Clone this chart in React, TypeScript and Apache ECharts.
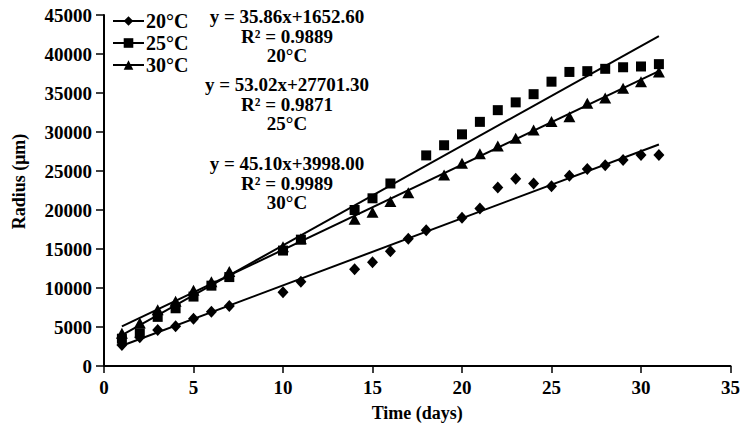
import React, { useEffect, useRef } from "react";
import * as echarts from "echarts";

const days20 = [1, 2, 3, 4, 5, 6, 7, 10, 11, 14, 15, 16, 17, 18, 20, 21, 22, 23, 24, 25, 26, 27, 28, 29, 30, 31];
const radius20 = [2700, 3700, 4600, 5100, 6050, 6950, 7700, 9450, 10800, 12400, 13300, 14700, 16300, 17400, 19000, 20200, 22900, 24000, 23400, 23050, 24400, 25250, 25750, 26400, 27050, 27050];

const days25 = [1, 2, 3, 4, 5, 6, 7, 10, 11, 14, 15, 16, 18, 19, 20, 21, 22, 23, 24, 25, 26, 27, 28, 29, 30, 31];
const radius25 = [3500, 4200, 6300, 7400, 8900, 10300, 11400, 14800, 16200, 20000, 21500, 23400, 27000, 28300, 29700, 31300, 32800, 33800, 34850, 36450, 37700, 37800, 38100, 38300, 38400, 38700];

const days30 = [1, 2, 3, 4, 5, 6, 7, 10, 11, 14, 15, 16, 17, 19, 20, 21, 22, 23, 24, 25, 26, 27, 28, 29, 30, 31];
const radius30 = [4200, 5500, 7200, 8300, 9700, 10800, 12100, 15300, 16300, 18800, 19700, 21100, 22200, 24500, 26000, 27200, 28200, 29200, 30250, 31350, 31950, 33700, 34350, 35600, 36450, 37700];

// trend lines: [day, radius] at both ends
const trend20 = [[1, 2600], [31, 28400]];
const trend25 = [[1, 3970], [31, 42300]];
const trend30 = [[1, 5080], [31, 37800]];

const seriesNames = ["20°C", "25°C", "30°C"];
const xTicks = { min: 0, max: 35, interval: 5 };
const yTicks = { min: 0, max: 45000, interval: 5000 };

const equations = [
  ["y = 35.86x+1652.60", "R² = 0.9889", "20°C"],
  ["y = 53.02x+27701.30", "R² = 0.9871", "25°C"],
  ["y = 45.10x+3998.00", "R² = 0.9989", "30°C"],
];

const FONT = "'Liberation Serif', 'Times New Roman', serif";

function zip(xs: number[], ys: number[]) {
  return xs.map((x, i) => [x, ys[i]]);
}

export default function App() {
  const ref = useRef<HTMLDivElement>(null);
  useEffect(() => {
    if (!ref.current) return;
    const chart = echarts.init(ref.current, null, { renderer: "svg" });
    const eqTops = [7, 75, 154];
    const graphics: any[] = [];
    equations.forEach((lines, gi) => {
      lines.forEach((t, li) => {
        graphics.push({
          type: "text",
          x: 287,
          y: eqTops[gi] + li * 19.7,
          z: 10,
          style: {
            text: t,
            fill: "#000",
            font: `bold 19px ${FONT}`,
            textAlign: "center",
            textVerticalAlign: "top",
          },
        });
      });
    });
    const dataSeries = [
      { name: seriesNames[0], data: zip(days20, radius20), symbol: "diamond", symbolSize: [11, 12] },
      { name: seriesNames[1], data: zip(days25, radius25), symbol: "rect", symbolSize: 10 },
      { name: seriesNames[2], data: zip(days30, radius30), symbol: "triangle", symbolSize: [12, 11] },
    ].map((s) => ({
      type: "line",
      name: s.name,
      data: s.data,
      symbol: s.symbol,
      symbolSize: s.symbolSize,
      showSymbol: true,
      itemStyle: { color: "#000" },
      lineStyle: { width: 0, opacity: 0 },
      z: 3,
    }));
    const trendSeries = [trend20, trend25, trend30].map((d, i) => ({
      type: "line",
      name: "trend" + i,
      data: d,
      symbol: "none",
      lineStyle: { color: "#000", width: 2 },
      z: 2,
    }));
    const tickLabel = { color: "#000", fontSize: 19, fontWeight: "bold", fontFamily: FONT, formatter: (v: number) => String(v) };
    chart.setOption({
      animation: false,
      backgroundColor: "#fff",
      textStyle: { fontFamily: FONT },
      grid: { left: 104, right: 9, top: 15, bottom: 65 },
      legend: {
        data: seriesNames,
        orient: "vertical",
        left: 107,
        top: 6,
        itemGap: 2,
        itemWidth: 31,
        itemHeight: 12,
        lineStyle: { width: 2, color: "#000", opacity: 1 },
        itemStyle: { color: "#000" },
        textStyle: { fontSize: 20, fontWeight: "bold", color: "#000", fontFamily: FONT, padding: [0, 0, 0, -3] },
      },
      xAxis: {
        type: "value",
        min: xTicks.min,
        max: xTicks.max,
        interval: xTicks.interval,
        name: "Time (days)",
        nameLocation: "middle",
        nameGap: 38,
        nameTextStyle: { fontSize: 18, fontWeight: "bold", color: "#000", fontFamily: FONT },
        splitLine: { show: false },
        axisLine: { lineStyle: { color: "#000", width: 2 } },
        axisTick: { lineStyle: { color: "#000", width: 1.5 }, length: 7 },
        axisLabel: { ...tickLabel, margin: 12 },
      },
      yAxis: {
        type: "value",
        min: yTicks.min,
        max: yTicks.max,
        interval: yTicks.interval,
        name: "Radius (μm)",
        nameLocation: "middle",
        nameGap: 76,
        nameTextStyle: { fontSize: 18, fontWeight: "bold", color: "#000", fontFamily: FONT, padding: [0, 0, 0, 18] },
        splitLine: { show: false },
        axisLine: { show: true, lineStyle: { color: "#000", width: 2 } },
        axisTick: { show: true, lineStyle: { color: "#000", width: 1.5 }, length: 8 },
        axisLabel: { ...tickLabel, margin: 12 },
      },
      graphic: graphics,
      series: [...trendSeries, ...dataSeries],
    });
    return () => chart.dispose();
  }, []);
  return <div ref={ref} style={{ width: 743, height: 431, position: "absolute", left: 0, top: 0 }} />;
}
